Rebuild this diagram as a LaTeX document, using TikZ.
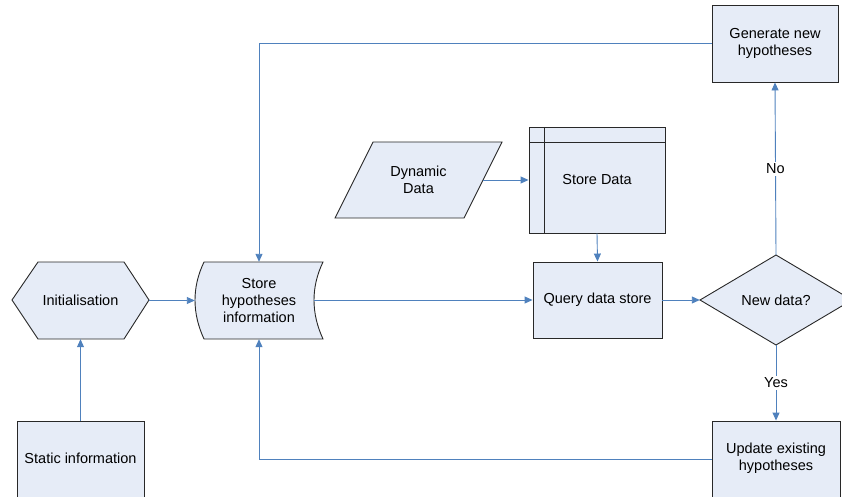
\documentclass[tikz,border=0pt]{standalone}
\usepackage{fontspec}
\setmainfont{Liberation Sans}
\usetikzlibrary{arrows.meta}
\definecolor{boxfill}{RGB}{230,236,247}
\definecolor{flow}{RGB}{79,129,189}
\definecolor{outline}{RGB}{40,40,40}
\begin{document}
\begin{tikzpicture}[x=1pt,y=-1pt,
  font=\fontsize{14.5}{17}\selectfont,
  shapeline/.style={draw=outline, fill=boxfill, line width=0.9pt, line join=miter},
  procbox/.style={shapeline, rectangle, align=center, inner sep=0pt},
  holder/.style={rectangle, align=center, inner sep=0pt},
  flowline/.style={draw=flow, line width=0.9pt, -{Triangle[length=8pt,width=7pt]}},
  branch/.style={fill=white, inner sep=2pt}]
\useasboundingbox (0,0) rectangle (842,497);

% --- shapes drawn by hand, with text holders on top ---
% hexagon: preparation step
\draw[shapeline] (12,300) -- (38,262) -- (124,262) -- (149,300) -- (124,339) -- (38,339) -- cycle;
\node[holder, minimum width=137pt, minimum height=77pt] (init) at (80.5,300.5) {Initialisation};

% stored data shape
\draw[shapeline] (204,262) -- (323,262) .. controls (311,287) and (311,313) .. (323,339)
  -- (204,339) .. controls (192,313) and (192,287) .. (204,262) -- cycle;
\node[holder, minimum width=128pt, minimum height=77pt] (store) at (259,300.5) {Store\\hypotheses\\information};
\coordinate (storeout) at (314,300);

% parallelogram: input data
\draw[shapeline] (373,142) -- (502,142) -- (464,218) -- (335,218) -- cycle;
\node[holder, minimum width=167pt, minimum height=76pt] (dyn) at (418.5,180) {Dynamic\\Data};
\coordinate (dynout) at (483,180);

% internal storage
\node[procbox, minimum width=136pt, minimum height=106pt] (sdata) at (597,180) {Store Data};
\draw[draw=outline, line width=0.9pt] (544,127) -- (544,233) (529,142) -- (665,142);

% decision diamond
\draw[shapeline] (700,300) -- (776,255) -- (852,300) -- (776,345) -- cycle;
\node[holder, minimum width=152pt, minimum height=90pt] (dec) at (776,300) {New data?};

% process boxes (the two lower ones run past the bottom edge)
\node[procbox, minimum width=129pt, minimum height=76pt] (query) at (597.5,300) {Query data store};
\node[procbox, minimum width=126pt, minimum height=77pt] (gen) at (775,43.5) {Generate new\\hypotheses};
\node[procbox, minimum width=128pt, minimum height=80pt] (upd) at (776,461) {};
\node[holder] (updtext) at (776,458.5) {Update existing\\hypotheses};
\node[procbox, minimum width=127pt, minimum height=80pt] (stat) at (80.5,461) {};
\node[holder] (stattext) at (80.5,458) {Static information};

% --- connectors ---
\draw[flowline] (init.east) -- (store.west);
\draw[flowline] (storeout) -- (query.west);
\draw[flowline] (query.east) -- (dec.west);
\draw[flowline] (dynout) -- (sdata.west);
\draw[flowline] (sdata.south) -- (query.north);
\draw[flowline] (dec.north) -- node[branch] {No} (gen.south);
\draw[flowline] (dec.south) -- node[branch] {Yes} (upd.north);
\draw[flowline] (gen.west) -| (store.north);
\draw[flowline] (upd.west |- 0,459) -| (store.south);
\draw[flowline] (stat.north) -- (init.south);
\end{tikzpicture}
\end{document}
